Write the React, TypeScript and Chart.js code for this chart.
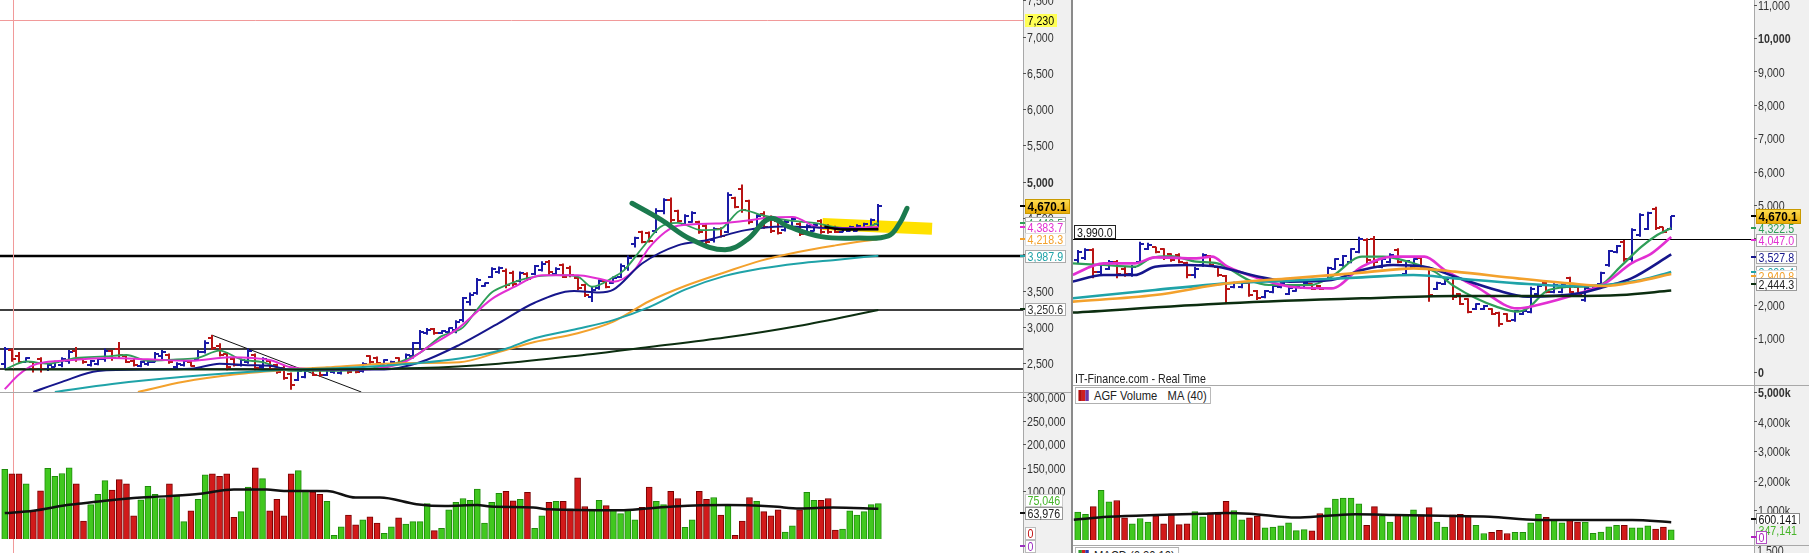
import React, { useEffect, useRef } from "react";
import { Chart, registerables } from "chart.js";
Chart.register(...registerables);

const FONT = "'Liberation Sans', Arial, sans-serif";
const CONDENSE = 0.82;

// ---------------- LEFT PANEL (123 bars) ----------------
const L_HIGH = [2730,2710,2660,2590,2525,2590,2500,2540,2590,2690, 2730,2570,2550,2570,2710,2690,2800,2620,2570,2540, 2540,2660,2690,2640,2520,2550,2550,2690,2824,2895, 2780,2660,2600,2570,2710,2640,2590,2550,2500,2480, 2380,2430,2420,2450,2440,2430,2440,2420,2450,2440, 2520,2615,2600,2560,2540,2590,2640,2800,2965,2990, 2990,2960,3000,3100,3420,3480,3680,3620,3830,3840, 3810,3780,3770,3760,3860,3910,3930,3830,3880,3850, 3700,3600,3560,3660,3650,3700,3880,3990,4250,4330, 4320,4640,4780,4790,4620,4560,4600,4470,4420,4380, 4380,4860,4800,4970,4760,4560,4600,4540,4480,4480, 4520,4450,4420,4430,4490,4420,4400,4380,4400,4420, 4440,4500,4700];
const L_LOW = [2430,2525,2500,2520,2380,2380,2400,2450,2450,2500, 2525,2500,2460,2480,2525,2540,2570,2510,2460,2450, 2470,2520,2550,2500,2430,2460,2460,2550,2640,2690, 2600,2410,2460,2460,2500,2410,2430,2410,2360,2280, 2140,2260,2300,2330,2320,2330,2360,2350,2360,2370, 2380,2500,2500,2490,2470,2490,2520,2570,2690,2900, 2900,2910,2920,2920,3070,3300,3450,3560,3680,3740, 3540,3560,3620,3640,3720,3770,3720,3720,3680,3690, 3510,3420,3350,3520,3540,3600,3680,3780,4100,4160, 4170,4300,4560,4430,4450,4410,4440,4290,4140,4170, 4240,4300,4640,4580,4420,4320,4360,4300,4280,4320, 4380,4260,4300,4320,4290,4290,4300,4310,4320,4320, 4340,4360,4380];
const L_OPEN = [2500,2690,2600,2530,2520,2560,2420,2460,2480,2540, 2680,2560,2480,2500,2560,2670,2700,2600,2540,2470, 2490,2530,2600,2620,2450,2480,2530,2560,2660,2850, 2740,2630,2560,2480,2520,2620,2450,2540,2480,2440, 2360,2280,2320,2430,2420,2340,2380,2370,2440,2420, 2400,2600,2580,2500,2480,2580,2530,2600,2780,2920, 2980,2920,2940,2960,3100,3350,3480,3570,3700,3760, 3780,3750,3640,3740,3740,3790,3900,3740,3860,3820, 3680,3580,3420,3540,3640,3610,3700,3820,4150,4310, 4300,4330,4600,4760,4600,4430,4450,4450,4400,4200, 4360,4320,4780,4900,4740,4350,4560,4520,4460,4340, 4400,4430,4310,4330,4470,4400,4380,4320,4330,4330, 4350,4380,4420];
const L_CLOSE = [2700,2560,2520,2580,2420,2430,2480,2530,2570,2660, 2560,2520,2540,2560,2680,2580,2620,2530,2480,2520, 2530,2630,2660,2520,2500,2540,2470,2660,2790,2720, 2620,2450,2480,2550,2680,2440,2560,2430,2380,2300, 2200,2400,2400,2350,2340,2410,2420,2410,2380,2390, 2500,2520,2510,2550,2530,2500,2620,2780,2940,2970, 2920,2950,2990,3080,3400,3450,3650,3610,3800,3820, 3580,3600,3750,3660,3840,3880,3760,3810,3700,3720, 3540,3450,3520,3640,3560,3680,3850,3960,4230,4180, 4190,4610,4750,4480,4470,4530,4580,4310,4180,4350, 4260,4830,4660,4620,4450,4530,4380,4330,4300,4450, 4500,4290,4400,4410,4320,4310,4320,4370,4380,4400, 4420,4480,4670];
const L_VOLUME_K = [148,138,138,117,60,102,150,133,139,151, 117,38,73,95,124,104,126,117,49,83, 112,95,86,117,93,37,60,84,136,138, 133,138,46,58,110,151,128,60,84,49, 138,145,104,100,95,80,8,26,51,30, 41,47,34,12,26,45,32,37,37,75, 18,23,62,78,86,82,106,34,78,97, 101,81,84,99,23,49,78,80,80,64, 130,69,62,82,71,62,54,62,41,67, 110,80,73,101,86,25,41,101,84,88, 51,71,8,38,88,80,58,49,62,15, 28,62,99,82,82,86,19,21,60,51, 58,73,75];
const L_VOLUME_MA_K: [number, number][] = [[0,55],[4,60],[8.7,72],[11,76],[15.7,84],[18,87],[22.7,91],[27.3,96],[32,105],[36.6,105],[39,102],[45,102],[49,88],[52.4,88],[57.5,74],[61.5,70],[66,72],[67.8,69],[73.8,67],[76,63],[86,61],[89.7,65],[93.4,69],[100.9,72],[107.3,69],[111,65],[115.7,67],[122,64]];

const L_MA_GREEN: [number, number][] = [[0,2420],[3,2530],[6,2500],[10,2580],[14,2600],[17,2620],[20,2540],[24,2560],[27,2580],[30,2680],[33,2560],[36,2520],[40,2400],[45,2400],[50,2420],[55,2520],[58,2650],[61,2880],[64,3000],[66,3250],[68,3480],[70,3580],[73,3680],[77,3720],[80,3700],[82,3560],[85,3690],[86.5,3790],[89,4090],[91.5,4380],[94,4440],[97.3,4340],[99.8,4350],[103,4620],[105.6,4550],[109.7,4470],[113,4440],[117,4370],[120,4370],[122,4440]];
const L_MA_MAGENTA: [number, number][] = [[0,2150],[2,2350],[4,2480],[8,2540],[15,2580],[20,2560],[26,2540],[31.5,2590],[37,2550],[40,2450],[45,2420],[50,2420],[56,2530],[59,2720],[63.5,3000],[68,3390],[71,3550],[75,3720],[80,3720],[83,3670],[85,3630],[88,3800],[90,4100],[94,4400],[99.3,4430],[103.5,4470],[106.6,4510],[110,4520],[114,4370],[118,4370],[122,4384]];
const L_MA_BLUE: [number, number][] = [[4,2110],[8,2250],[13,2400],[20,2420],[26,2430],[30,2500],[34,2480],[37,2470],[40,2420],[53,2420],[58,2520],[63.5,2760],[69,3060],[74,3340],[79.5,3500],[83,3480],[85,3520],[89,3880],[94,4130],[98,4200],[103.5,4340],[108.7,4390],[115,4370],[122,4350]];
const L_MA_ORANGE: [number, number][] = [[18.6,2110],[25,2250],[32,2350],[40,2420],[45,2450],[53,2500],[58,2510],[63.5,2520],[69,2660],[74,2800],[80,2920],[85,3080],[90,3360],[95,3570],[100.6,3760],[105.6,3920],[110.8,4040],[116,4130],[122,4218]];
const L_MA_TEAL: [number, number][] = [[7,2110],[15,2220],[25,2320],[38,2410],[47,2440],[58,2510],[63.5,2570],[69.8,2700],[74,2850],[80,2980],[85,3100],[90,3280],[95,3520],[100.6,3710],[105.6,3810],[110.8,3880],[116,3930],[122,3988]];
const L_MA_DARK: [number, number][] = [[0,2420],[37,2420],[58,2440],[69,2500],[80,2610],[90,2730],[100.6,2860],[110.8,3020],[122,3240]];

const L_HAND_CURVE: [number, number][] = [[87.6,4710],[91.7,4480],[95.9,4210],[100.6,4070],[103.7,4210],[106.8,4500],[109.4,4390],[114,4250],[119.2,4230],[123.4,4260],[125,4440],[126,4640]];
const L_BLACK_STROKE: [number, number][] = [[114.5,4385],[117,4350],[122,4355]];
const L_YELLOW_BAND: [number, number][] = [[114.2,4425],[129.5,4360]];
const L_TREND_LINE: [number, number][] = [[28.9,2895],[49.8,2110]];
const L_LEVELS = [3990, 3240, 2700, 2425];
const L_CROSS_PRICE = 7230;
const L_CROSS_BAR = 1.09;
const L_PRICE_TICKS = [2500,3000,3500,4000,4500,5000,5500,6000,6500,7000,7500];
const L_VOL_TICKS_K = [100,150,200,250,300];

// ---------------- RIGHT PANEL (77 bars) ----------------
const R_HIGH = [3660,3710,3710,3260,3360,3360,3160,3210,3910,3880, 3760,3710,3560,3560,3310,3160,3560,3510,3160,2910, 2710,2710,2710,2460,2460,2610,2710,2560,2610,2710, 2660,2610,3160,3410,3510,3710,4060,4010,4080,3410, 3560,3710,3360,3410,3460,3160,2710,2810,2860,2360, 2210,2060,2010,1910,1810,1760,1860,1860,2560,2610, 2710,2660,2660,2860,2560,2560,2610,3010,3660,3810, 3960,4310,4760,4810,4960,4360,4680];
const R_LOW = [3260,3360,2810,2910,3060,2810,2860,2860,3260,3660, 3560,3360,3310,3260,2810,2810,3160,3160,2860,2060, 2510,2510,2260,2160,2210,2360,2510,2310,2410,2510, 2460,2460,2760,3060,3160,3260,3560,3260,3160,3110, 3260,3260,2910,3110,3060,2110,2460,2610,2160,2010, 1760,1860,1860,1710,1360,1510,1510,1710,1760,2310, 2360,2360,2360,2360,2310,2110,2460,2610,3160,3560, 3310,3310,4060,4260,4260,4160,4260];
const R_OPEN = [3350,3420,3650,3000,3100,3300,3100,2950,3300,3700, 3740,3680,3540,3500,3280,2900,3200,3480,3140,2880, 2550,2560,2680,2440,2260,2400,2540,2350,2430,2530, 2640,2590,2800,3100,3200,3300,3600,3950,4000,3150, 3300,3650,2950,3150,3420,3120,2500,2640,2820,2330, 2180,1880,1880,1890,1780,1740,1550,1730,1800,2350, 2680,2400,2400,2820,2540,2150,2480,2650,3200,3600, 3900,3400,4100,4300,4900,4340,4300];
const R_CLOSE = [3600,3650,3000,3200,3300,2950,2950,3150,3850,3820, 3600,3420,3350,3300,2900,3100,3500,3200,2900,2500, 2680,2670,2320,2220,2420,2580,2680,2520,2580,2680, 2500,2490,3120,3380,3480,3680,4000,3350,3300,3380, 3520,3300,3320,3380,3100,2300,2680,2780,2250,2050, 1800,2030,1990,1740,1450,1540,1830,1840,2500,2580, 2400,2620,2630,2400,2340,2520,2590,2980,3620,3780, 3400,4250,4700,4780,4320,4200,4670];
const R_VOLUME_K = [950,870,1130,1680,1290,1340,750,550,730,610, 820,550,890,520,550,960,790,920,870,1310, 1000,680,750,810,410,440,480,580,320,350, 310,900,1090,1390,1420,1420,1230,500,1130,820, 610,870,840,1020,850,1100,610,440,850,870, 820,500,220,260,330,220,260,260,580,870, 770,670,580,700,610,610,230,270,450,500, 500,410,410,480,370,440,347];
const R_VOLUME_MA_K: [number, number][] = [[-0.5,690],[3.9,785],[10,850],[16,890],[19,915],[22,890],[28,760],[32,820],[35.6,870],[40.5,850],[46.6,820],[52.8,785],[59,680],[65,680],[71,680],[76,600]];

const R_MA_GREEN: [number, number][] = [[-0.7,3260],[3.3,3210],[7.3,3160],[9.3,3410],[11.9,3480],[15.2,3310],[17.9,3260],[21.9,2760],[24.5,2610],[29.8,2610],[32.5,2860],[36.4,3460],[39.1,3460],[43,3260],[45.7,3010],[48.3,2560],[51,2210],[53.6,1960],[56.3,1810],[57.6,1910],[60.3,2460],[64.2,2560],[66.9,2610],[69.5,3160],[72.2,3760],[74.2,4110],[76,4322]];
const R_MA_MAGENTA: [number, number][] = [[-0.7,2910],[3.3,3260],[7.3,3260],[9.9,3440],[15.2,3410],[17.2,3460],[19.2,3160],[23.2,2810],[27.2,2560],[32.5,2510],[36.4,3160],[40.4,3460],[44.4,3460],[47,3060],[51,2560],[56.3,1910],[58.9,2010],[64.2,2360],[67.5,2660],[70.9,3260],[73.5,3560],[76,4047]];
const R_MA_BLUE: [number, number][] = [[-0.7,2710],[3.3,2910],[7.3,2910],[9.9,3160],[13.9,3210],[17.9,3160],[23.2,2860],[27.2,2710],[32.5,2760],[36.4,3060],[40.4,3210],[44.4,3160],[48.3,2860],[53.6,2460],[57.6,2260],[64.2,2360],[67.5,2560],[70.9,2810],[76,3528]];
const R_MA_ORANGE: [number, number][] = [[-0.7,2110],[9.9,2310],[19.2,2660],[27.2,2810],[36.4,2980],[43,3110],[48.3,3010],[56.3,2810],[62.9,2660],[67.5,2580],[71.5,2710],[76,2941]];
const R_MA_TEAL: [number, number][] = [[-0.7,2210],[9.9,2460],[19.2,2660],[27.2,2740],[36.4,2840],[43,2910],[48.3,2810],[56.3,2660],[62.9,2580],[67.5,2610],[72.2,2760],[76,3000]];
const R_MA_DARK: [number, number][] = [[-0.7,1780],[19.2,2060],[36.4,2210],[48.3,2280],[62.9,2280],[69.5,2310],[76,2444]];
const R_LEVEL = 3990;
const R_PRICE_TICKS = [0,1000,2000,3000,4000,5000,6000,7000,8000,9000,10000,11000];
const R_VOL_TICKS_K = [1000,2000,3000,4000,5000];

// ---------------- styles ----------------
const C = {
  up: "#1a1aa6", down: "#b81414",
  green: "#2f9e58", magenta: "#e22fd2", blue: "#16168c", orange: "#f3a12c", teal: "#1fa3a8", dark: "#0c2e10",
  volUp: "#41c81f", volUpB: "#1f8c0c", volDn: "#d21a1a", volDnB: "#7a0000",
};

type Badge = { v: number; text: string; fg: string; bg?: string; border?: string; bold?: boolean; gold?: boolean; dy?: number; dx?: number; mark?: string };

function condensedText(ctx: CanvasRenderingContext2D, text: string, x: number, y: number, k: number) {
  ctx.save();
  ctx.translate(x, y);
  ctx.scale(k, 1);
  ctx.fillText(text, 0, 0);
  ctx.restore();
}

function makeOverlay(cfg: any) {
  return {
    id: "overlay",
    beforeDatasetsDraw(chart: any) {
      const { ctx, chartArea: ca } = chart;
      const xs = chart.scales.x, ys = chart.scales.y;
      ctx.save();
      ctx.beginPath();
      ctx.rect(ca.left, ca.top, ca.right - ca.left, ca.bottom - ca.top);
      ctx.clip();
      for (const h of cfg.hlines || []) {
        const py = Math.round(ys.getPixelForValue(h.v)) + (h.w === 1 ? 0.5 : 0);
        ctx.strokeStyle = h.color; ctx.lineWidth = h.w;
        ctx.beginPath(); ctx.moveTo(ca.left, py); ctx.lineTo(ca.right, py); ctx.stroke();
      }
      for (const vl of cfg.vlines || []) {
        const px = Math.round(xs.getPixelForValue(vl.v)) + 0.5;
        ctx.strokeStyle = vl.color; ctx.lineWidth = vl.w;
        ctx.beginPath(); ctx.moveTo(px, ca.top); ctx.lineTo(px, ca.bottom); ctx.stroke();
      }
      for (const s of cfg.segments || []) {
        ctx.strokeStyle = s.color; ctx.lineWidth = s.w; ctx.lineCap = "butt";
        ctx.beginPath();
        s.pts.forEach(([x, y]: [number, number], i: number) => {
          const px = xs.getPixelForValue(x), py = ys.getPixelForValue(y);
          if (i) ctx.lineTo(px, py); else ctx.moveTo(px, py);
        });
        ctx.stroke();
      }
      if (cfg.candles) {
        const { open, high, low, close, tick } = cfg.candles;
        ctx.lineWidth = 2;
        for (let i = 0; i < open.length; i++) {
          const px = Math.round(xs.getPixelForValue(i));
          const yo = Math.round(ys.getPixelForValue(open[i]));
          const yc = Math.round(ys.getPixelForValue(close[i]));
          const yh = ys.getPixelForValue(high[i]);
          const yl = ys.getPixelForValue(low[i]);
          ctx.strokeStyle = close[i] >= open[i] ? C.up : C.down;
          ctx.beginPath();
          ctx.moveTo(px, yh); ctx.lineTo(px, yl);
          ctx.moveTo(px - tick, yo); ctx.lineTo(px, yo);
          ctx.moveTo(px, yc); ctx.lineTo(px + tick, yc);
          ctx.stroke();
        }
      }
      ctx.restore();
    },
    afterDraw(chart: any) {
      const { ctx, chartArea: ca } = chart;
      const ys = chart.scales.y;
      ctx.save();
      ctx.textBaseline = "middle"; ctx.textAlign = "left";
      // axis tick labels (condensed face), placed on the library's ticks
      const ax = cfg.axis;
      for (const t of ys.ticks) {
        const py = ys.getPixelForValue(t.value);
        const bold = ax.bold.includes(t.value);
        ctx.font = `${bold ? "bold " : ""}13px ${FONT}`;
        ctx.fillStyle = "#333";
        condensedText(ctx, ax.fmt(t.value), ys.left + 4, py + 1, CONDENSE);
      }
      for (const h of cfg.hlines || []) {
        if (!h.label) continue;
        const py = Math.round(ys.getPixelForValue(h.v));
        ctx.font = `13px ${FONT}`;
        const w = Math.ceil(ctx.measureText(h.label).width * CONDENSE) + 6;
        ctx.fillStyle = "#fff"; ctx.fillRect(ca.left + 1, py - 14, w, 14);
        ctx.strokeStyle = "#222"; ctx.lineWidth = 1; ctx.strokeRect(ca.left + 1.5, py - 13.5, w - 1, 13);
        ctx.fillStyle = "#111";
        condensedText(ctx, h.label, ca.left + 4, py - 6, CONDENSE);
      }
      for (const b of (cfg.badges || []) as Badge[]) {
        const py = Math.round(ys.getPixelForValue(b.v) + (b.dy || 0));
        const k = b.bold ? 0.9 : CONDENSE;
        ctx.font = `${b.bold ? "bold " : ""}13px ${FONT}`;
        const w = Math.ceil(ctx.measureText(b.text).width * k) + 5;
        const x0 = Math.round(ys.left) + 2 + (b.dx || 0);
        const hgt = b.bold ? 15 : 13;
        const top = py - Math.floor(hgt / 2);
        if (b.mark) { ctx.fillStyle = b.mark; ctx.fillRect(ys.left - 3, py - 1, 5, 2); }
        if (b.gold) {
          const g = ctx.createLinearGradient(0, top, 0, top + hgt);
          g.addColorStop(0, "#ffdf55"); g.addColorStop(1, "#e9a800");
          ctx.fillStyle = g; ctx.fillRect(x0, top, w, hgt);
        } else if (b.bg) { ctx.fillStyle = b.bg; ctx.fillRect(x0, top, w, hgt); }
        if (b.border) { ctx.strokeStyle = b.border; ctx.lineWidth = 1; ctx.strokeRect(x0 + 0.5, top + 0.5, w - 1, hgt - 1); }
        ctx.fillStyle = b.fg;
        condensedText(ctx, b.text, x0 + 2.5, py + 1, k);
      }
      ctx.restore();
    },
  };
}

const pts = (arr: [number, number][]) => arr.map(([x, y]) => ({ x, y }));

function maLine(data: [number, number][], color: string, width: number, extra: any = {}) {
  return {
    type: "line", data: pts(data), borderColor: color, borderWidth: width,
    pointRadius: 0, fill: false, cubicInterpolationMode: "monotone", order: 5, ...extra,
  };
}

function yAxis(min: number, max: number, width: number, ticks: number[]) {
  return {
    position: "right", min, max,
    afterFit: (s: any) => { s.width = width; s.paddingTop = 0; s.paddingBottom = 0; },
    afterBuildTicks: (s: any) => { s.ticks = ticks.map((v) => ({ value: v })); },
    ticks: { display: false },
    grid: { drawOnChartArea: false, drawTicks: true, tickLength: 3, color: "#555", lineWidth: 1 },
    border: { display: false },
  };
}

function baseOptions(xmin: number, xmax: number, y: any) {
  return {
    animation: false, responsive: false, maintainAspectRatio: false, events: [],
    layout: { padding: 0 },
    plugins: { legend: { display: false }, tooltip: { enabled: false } },
    scales: { x: { type: "linear", display: false, offset: false, min: xmin, max: xmax, grid: { offset: false } }, y },
  };
}

const fmtNum = (v: number) => v.toLocaleString("en-US");

function volumeBars(vol: number[], open: number[], close: number[]) {
  return {
    type: "bar",
    data: vol.map((v, i) => ({ x: i, y: v })),
    backgroundColor: vol.map((_, i) => (close[i] >= open[i] ? C.volUp : C.volDn)),
    borderColor: vol.map((_, i) => (close[i] >= open[i] ? C.volUpB : C.volDnB)),
    borderWidth: 1, barThickness: 6, order: 10,
  };
}

export default function App() {
  const lp = useRef<HTMLCanvasElement>(null);
  const lv = useRef<HTMLCanvasElement>(null);
  const rp = useRef<HTMLCanvasElement>(null);
  const rv = useRef<HTMLCanvasElement>(null);

  useEffect(() => {
    document.body.style.margin = "0";
    const charts: Chart[] = [];
    const L_X = [-0.66, 142.2];
    const R_X = [-0.6, 86.6];

    charts.push(new Chart(lp.current!, {
      type: "line",
      data: {
        datasets: [
          maLine(L_MA_DARK, C.dark, 2),
          maLine(L_MA_TEAL, C.teal, 2),
          maLine(L_MA_ORANGE, C.orange, 2),
          maLine(L_MA_BLUE, C.blue, 2),
          maLine(L_MA_MAGENTA, C.magenta, 2),
          maLine(L_MA_GREEN, C.green, 1.8),
          maLine(L_BLACK_STROKE, "#000", 2.5, { order: 2 }),
          maLine(L_HAND_CURVE, "#1b7a4e", 5, { cubicInterpolationMode: "default", tension: 0.4, borderCapStyle: "round", order: 1 }),
        ] as any,
      },
      options: baseOptions(L_X[0], L_X[1], yAxis(2110, 7510, 48, L_PRICE_TICKS)) as any,
      plugins: [makeOverlay({
        axis: { fmt: fmtNum, bold: [5000] },
        hlines: [
          { v: L_CROSS_PRICE, color: "#f19a9a", w: 1 },
          { v: L_LEVELS[0], color: "#000", w: 2.5 },
          { v: L_LEVELS[1], color: "#000", w: 1.5 },
          { v: L_LEVELS[2], color: "#000", w: 1.3 },
          { v: L_LEVELS[3], color: "#000", w: 1.3 },
        ],
        vlines: [{ v: L_CROSS_BAR, color: "#f19a9a", w: 1 }],
        segments: [
          { pts: L_TREND_LINE, color: "#111", w: 1 },
          { pts: L_YELLOW_BAND, color: "#ffe100", w: 12 },
        ],
        candles: { open: L_OPEN, high: L_HIGH, low: L_LOW, close: L_CLOSE, tick: 4 },
        badges: [
          { v: 7230, text: "7,230", fg: "#000", bg: "#ffff55" },
          { v: 4440, text: "4,440.5", fg: C.green, bg: "#fff", border: "#aaa", mark: C.green },
          { v: 4383.7, text: "4,383.7", fg: C.magenta, bg: "#fff", border: "#bbb", mark: C.magenta },
          { v: 4218.3, text: "4,218.3", fg: C.orange, bg: "#fff", border: "#ddd", mark: C.orange },
          { v: 3987.9, text: "3,987.9", fg: C.teal, bg: "#fff", border: "#aaa", mark: C.teal },
          { v: 3250.6, text: "3,250.6", fg: "#333", bg: "#fff", border: "#aaa", mark: C.dark },
          { v: 4670.1, text: "4,670.1", fg: "#000", gold: true, bold: true, border: "#c99a00", mark: "#000" },
        ],
      })],
    }));

    charts.push(new Chart(lv.current!, {
      type: "bar",
      data: {
        datasets: [
          volumeBars(L_VOLUME_K, L_OPEN, L_CLOSE),
          { ...maLine(L_VOLUME_MA_K, "#111", 2.5), order: 1 },
        ] as any,
      },
      options: baseOptions(L_X[0], L_X[1], yAxis(-29.5, 309.5, 48, L_VOL_TICKS_K)) as any,
      plugins: [makeOverlay({
        axis: { fmt: (v: number) => fmtNum(v * 1000), bold: [] },
        vlines: [{ v: L_CROSS_BAR, color: "#f19a9a", w: 1 }],
        badges: [
          { v: 75.046, text: "75,046", fg: "#46b52a", bg: "#fff", border: "#ccc", dy: -4 },
          { v: 63.976, text: "63,976", fg: "#222", bg: "#fff", border: "#999", dy: 4, mark: "#111" },
          { v: 0, text: "0", fg: "#c01010", bg: "#fff", border: "#bbb", dy: -6 },
          { v: 0, text: "0", fg: "#9b30c0", bg: "#fff", border: "#bbb", dy: 7, mark: "#9b30c0" },
        ],
      })],
    }));

    charts.push(new Chart(rp.current!, {
      type: "line",
      data: {
        datasets: [
          maLine(R_MA_DARK, C.dark, 2.5),
          maLine(R_MA_ORANGE, C.orange, 2.6),
          maLine(R_MA_TEAL, C.teal, 2.6),
          maLine(R_MA_BLUE, C.blue, 2.6),
          maLine(R_MA_MAGENTA, C.magenta, 2.6),
          maLine(R_MA_GREEN, C.green, 2.2),
        ] as any,
      },
      options: baseOptions(R_X[0], R_X[1], yAxis(-390, 11160, 55, R_PRICE_TICKS)) as any,
      plugins: [makeOverlay({
        axis: { fmt: fmtNum, bold: [0, 10000] },
        hlines: [{ v: R_LEVEL, color: "#000", w: 1, label: "3,990.0" }],
        candles: { open: R_OPEN, high: R_HIGH, low: R_LOW, close: R_CLOSE, tick: 4 },
        badges: [
          { v: 4322.5, text: "4,322.5", fg: C.green, bg: "#f0f0f0", mark: C.green },
          { v: 4047.0, text: "4,047.0", fg: C.magenta, bg: "#fff", border: "#aaa", dy: 3, mark: C.magenta },
          { v: 3030, text: "3,030.4", fg: C.teal, bg: "#fff", border: "#aaa", dy: 1, mark: C.teal },
          { v: 3527.8, text: "3,527.8", fg: C.blue, bg: "#fff", border: "#aaa", dy: 3, mark: C.blue },
          { v: 2940.8, text: "2,940.8", fg: C.orange, bg: "#fff", border: "#ddd", dy: 2, mark: C.orange },
          { v: 2444.3, text: "2,444.3", fg: "#222", bg: "#fff", border: "#999", dy: -7, mark: C.dark },
          { v: 4670.1, text: "4,670.1", fg: "#000", gold: true, bold: true, border: "#c99a00", mark: "#000" },
        ],
      })],
    }));

    charts.push(new Chart(rv.current!, {
      type: "bar",
      data: {
        datasets: [
          volumeBars(R_VOLUME_K, R_OPEN, R_CLOSE),
          { ...maLine(R_VOLUME_MA_K, "#111", 2.5), order: 1 },
        ] as any,
      },
      options: baseOptions(R_X[0], R_X[1], yAxis(-169, 5220, 55, R_VOL_TICKS_K)) as any,
      plugins: [makeOverlay({
        axis: { fmt: (v: number) => fmtNum(v) + "k", bold: [5000] },
        badges: [
          { v: 600.141, text: "600,141", fg: "#111", bg: "#fff", border: "#888", dy: -3, mark: "#111" },
          { v: 347.141, text: "347,141", fg: "#49b52c", bg: "#f0f0f0", dy: 0 },
          { v: 0, text: "0", fg: "#b020c0", bg: "#fff", border: "#b050c0", dy: -3, mark: "#b020c0" },
        ],
      })],
    }));

    return () => charts.forEach((c) => c.destroy());
  }, []);

  const abs = (l: number, t: number, w: number, h: number, extra: any = {}) =>
    ({ position: "absolute", left: l, top: t, width: w, height: h, ...extra } as React.CSSProperties);
  const txt: React.CSSProperties = { fontFamily: FONT, fontSize: 13, color: "#222", whiteSpace: "nowrap", lineHeight: "15px", transformOrigin: "0 0", transform: `scaleX(${CONDENSE})` };

  return (
    <div style={{ position: "relative", width: 1809, height: 553, overflow: "hidden", background: "#fff" }}>
      <div style={abs(1023, 0, 48, 553, { background: "#f0f0f0", borderLeft: "1px solid #a8a8a8", boxSizing: "border-box" })} />
      <div style={abs(1754, 0, 55, 553, { background: "#f0f0f0", borderLeft: "1px solid #a8a8a8", boxSizing: "border-box" })} />
      <canvas ref={lp} width={1071} height={392} style={abs(0, 0, 1071, 392)} />
      <canvas ref={lv} width={1071} height={160} style={abs(0, 393, 1071, 160)} />
      <canvas ref={rp} width={736} height={385} style={abs(1073, 0, 736, 385)} />
      <canvas ref={rv} width={736} height={159} style={abs(1073, 386, 736, 159)} />
      <div style={abs(0, 392, 1071, 1, { background: "#a8a8a8" })} />
      <div style={abs(1073, 385, 736, 1, { background: "#a8a8a8" })} />
      <div style={abs(1073, 545, 736, 1, { background: "#a8a8a8" })} />
      <div style={abs(1071, 0, 2, 553, { background: "#8a8a8a" })} />
      <div style={{ ...txt, position: "absolute", left: 1075, top: 371 }}>IT-Finance.com - Real Time</div>
      <div style={{ ...txt, position: "absolute", left: 1075, top: 387, height: 15, background: "#fff", border: "1px solid #b0b0b0", padding: "0 4px 0 3px", display: "flex", alignItems: "center", transform: "scaleX(0.86)" }}>
        <span style={{ display: "inline-block", width: 4, height: 11, background: "#b01010" }} />
        <span style={{ display: "inline-block", width: 4, height: 11, background: "#d02020" }} />
        <span style={{ display: "inline-block", width: 4, height: 11, background: "#6a3aa8", marginRight: 6 }} />
        <span>AGF Volume</span>
        <span style={{ marginLeft: 12 }}>MA (40)</span>
      </div>
      <div style={{ ...txt, position: "absolute", left: 1075, top: 547, height: 15, background: "#fff", border: "1px solid #b0b0b0", padding: "0 4px 0 3px", display: "flex", alignItems: "center", transform: "scaleX(0.86)" }}>
        <span style={{ display: "inline-block", width: 4, height: 11, background: "#2a9a2a" }} />
        <span style={{ display: "inline-block", width: 4, height: 11, background: "#d02020" }} />
        <span style={{ display: "inline-block", width: 4, height: 11, background: "#2a3ab0", marginRight: 6 }} />
        <span>MACD (6,20,10)</span>
      </div>
      <div style={{ ...txt, position: "absolute", left: 1757, top: 543, color: "#333" }}>1,500</div>
    </div>
  );
}
